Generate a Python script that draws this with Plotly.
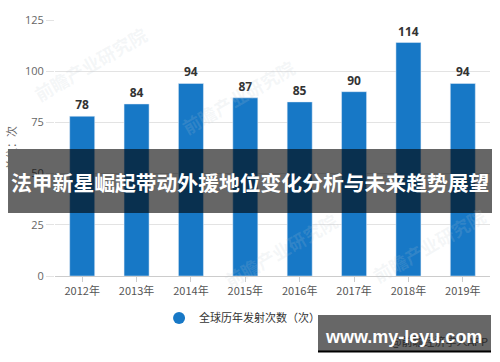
import plotly.graph_objects as go

years = ["2012年", "2013年", "2014年", "2015年", "2016年", "2017年", "2018年", "2019年"]
launches = [78, 84, 94, 87, 85, 90, 114, 94]
series_name = "全球历年发射次数（次）"
y_title = "单位：次"
banner_title = "法甲新星崛起带动外援地位变化分析与未来趋势展望"
site_text = "www.my-leyu.com"
source_text = "@前瞻经济学人APP"
watermark = "前瞻产业研究院"

FONT = "Open Sans, Noto Sans CJK SC, sans-serif"
CJK = "Noto Sans CJK SC, sans-serif"
BLUE = "#1778c6"

fig = go.Figure()
fig.add_trace(go.Bar(
    x=years, y=launches, name=series_name, showlegend=False,
    marker=dict(color=BLUE),
    text=launches, textposition="outside",
    textfont=dict(size=12, color="#333333", family=FONT, weight="bold"),
    cliponaxis=False,
))
# legend entry with a round marker
fig.add_trace(go.Scatter(x=[None], y=[None], mode="markers", name=series_name,
                         marker=dict(symbol="circle", size=12, color=BLUE)))

# faint watermarks
for (xp, yp) in [(0.08, 0.83), (0.42, 0.70), (0.52, 0.10), (0.86, 0.12)]:
    fig.add_annotation(xref="paper", yref="paper", x=xp, y=yp, text=watermark,
                       xanchor="center", yanchor="middle",
                       showarrow=False, textangle=-30,
                       font=dict(size=18, color="rgba(190,200,210,0.16)", family=CJK, weight="bold"))

# banner
fig.add_shape(type="rect", xref="paper", yref="paper",
              x0=-0.108, x1=1.0046, y0=0.246, y1=0.496,
              fillcolor="rgba(0,0,0,0.6)", line=dict(width=0), layer="above")
fig.add_annotation(xref="paper", yref="paper", x=0.4475, y=0.368, text=banner_title,
                   xanchor="center", yanchor="middle", showarrow=False,
                   font=dict(size=20.8, color="white", family=CJK, weight="bold"))

# site box
fig.add_shape(type="rect", xref="paper", yref="paper",
              x0=0.6046, x1=1.0023, y0=-0.297, y1=-0.152,
              fillcolor="rgba(90,90,90,0.92)", line=dict(width=0), layer="above")
fig.add_shape(type="line", xref="paper", yref="paper",
              x0=0.6046, x1=1.0023, y0=-0.295, y1=-0.295,
              line=dict(color="black", width=2), layer="above")
fig.add_annotation(xref="paper", yref="paper", x=1.0, y=-0.255, xanchor="right", yanchor="middle",
                   text=source_text, showarrow=False,
                   font=dict(size=11, color="#2a2a2a", family=CJK))
fig.add_annotation(xref="paper", yref="paper", x=0.802, y=-0.24, text=site_text,
                   xanchor="center", yanchor="middle", showarrow=False,
                   font=dict(size=18, color="white", family="Liberation Sans, Arial, sans-serif", weight="bold"))

fig.update_layout(
    width=500, height=362,
    margin=dict(l=55, r=10, t=20, b=86),
    paper_bgcolor="white", plot_bgcolor="white",
    bargap=0.54,
    showlegend=True,
    legend=dict(orientation="h", x=0.43, xanchor="center", y=-0.164, yanchor="middle",
                bgcolor="rgba(0,0,0,0)",
                font=dict(size=11, color="#333333", family=CJK)),
    font=dict(family=FONT),
)
fig.update_yaxes(range=[0, 125], dtick=25, showgrid=True, gridcolor="#e3e3e3", gridwidth=1,
                 zeroline=False, showline=False, ticks="outside", ticklen=8, tickcolor="#e3e3e3",
                 automargin=False,
                 tickfont=dict(size=11, color="#666666"),
                 title=dict(text=y_title, font=dict(size=11, color="#666666", family=CJK), standoff=6))
fig.update_xaxes(showline=True, linecolor="#cccccc", ticks="outside", ticklen=5, tickcolor="#cccccc",
                 automargin=False,
                 tickfont=dict(size=11, color="#555555", family=CJK), showgrid=False)

fig.write_html("out.html", config={"displayModeBar": False},
               post_script="document.body.style.margin='0';")
